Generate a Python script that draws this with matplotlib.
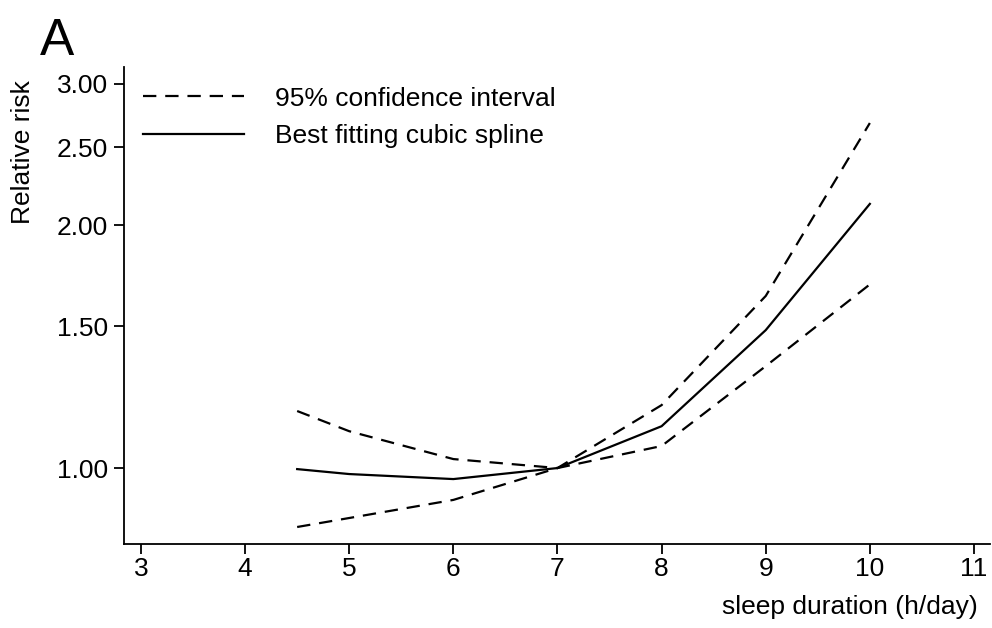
import numpy as np
import matplotlib.pyplot as plt
from matplotlib.ticker import FixedLocator, FormatStrFormatter, NullLocator

plt.rcParams['font.family'] = ['Liberation Sans', 'DejaVu Sans']

# sleep duration (h/day) and relative risk
hours = [4.5, 5, 6, 7, 8, 9, 10]
rr_fit = [0.997, 0.983, 0.969, 1.0, 1.127, 1.483, 2.127]
rr_upper = [1.177, 1.111, 1.026, 1.0, 1.197, 1.635, 2.68]
rr_lower = [0.845, 0.867, 0.913, 1.0, 1.065, 1.338, 1.69]

x_ticks = [3, 4, 5, 6, 7, 8, 9, 10, 11]
y_ticks = [1.0, 1.5, 2.0, 2.5, 3.0]

fig = plt.figure(figsize=(9.92, 6.28), dpi=100)
ax = fig.add_axes([0.125, 0.1338, 0.873, 0.7595])

dash = (6.0, 4.0)
ax.plot(hours, rr_upper, color='black', lw=1.6, linestyle=(0, dash),
        label='95% confidence interval')
ax.plot(hours, rr_fit, color='black', lw=1.6, label='Best fitting cubic spline')
ax.plot(hours, rr_lower, color='black', lw=1.6, linestyle=(0, dash))

ax.set_yscale('log')
ax.set_xlim(2.837, 11.154)
ax.set_ylim(0.805, 3.145)
ax.yaxis.set_major_locator(FixedLocator(y_ticks))
ax.yaxis.set_major_formatter(FormatStrFormatter('%.2f'))
ax.yaxis.set_minor_locator(NullLocator())
ax.set_xticks(x_ticks)

for side in ['top', 'right']:
    ax.spines[side].set_visible(False)
for side in ['left', 'bottom']:
    ax.spines[side].set_linewidth(1.3)
ax.tick_params(axis='both', direction='out', length=7.5, width=1.3,
               labelsize=19)
ax.tick_params(axis='x', pad=2)
ax.tick_params(axis='y', pad=4)

ax.legend(loc='upper left', bbox_to_anchor=(0.004, 0.992), frameon=False,
          fontsize=19, handlelength=3.8, handletextpad=1.2,
          labelspacing=0.52, borderaxespad=0.2)

fig.text(23 / 992, 1 - 152 / 628, 'Relative risk', rotation=90,
         ha='center', va='center', fontsize=19)
fig.text(850 / 992, 1 - 607 / 628, 'sleep duration (h/day)',
         ha='center', va='center', fontsize=19)
fig.text(0.04, 0.912, 'A', fontsize=37, ha='left', va='baseline')

fig.savefig('out.png', dpi=100)
